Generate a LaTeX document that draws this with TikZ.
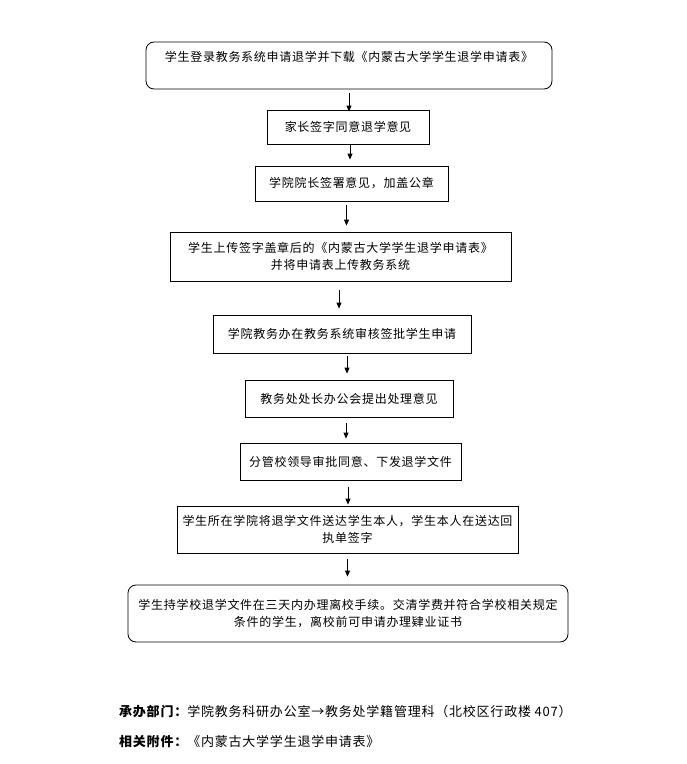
\documentclass[tikz,border=0pt]{standalone}
\usepackage{fontspec}
\setmainfont{Noto Sans CJK SC}[LetterSpace=6]
\usetikzlibrary{arrows.meta}
\begin{document}
\begin{tikzpicture}[
            x = 1pt, y = -1pt,
            blk/.style = {draw, line width=0.8pt, inner sep=0pt, align=center,
              font=\fontsize{12}{17}\selectfont},
            rblk/.style = {blk, rounded corners=8pt},
            arr/.style = {draw, line width=0.8pt, -{Triangle[length=6pt,width=5pt]}},
            note/.style = {anchor=west, inner sep=0pt, font=\fontsize{13}{16}\selectfont},
          ]
          \useasboundingbox (0,0) rectangle (687,764);
          \node[rblk, minimum width=406pt, text height=19.5pt, text depth=27.5pt] (login) at (349,65.5)
            {学生登录教务系统申请退学并下载《内蒙古大学学生退学申请表》};
          \node[blk, minimum width=162pt, minimum height=34pt] (parent) at (348,127) {家长签字同意退学意见};
          \node[blk, minimum width=193pt, minimum height=35pt] (dean) at (351.5,183.5) {学院院长签署意见，加盖公章};
          \node[blk, minimum width=341pt, minimum height=49pt] (upload) at (340.5,256.5)
            {学生上传签字盖章后的《内蒙古大学学生退学申请表》\\并将申请表上传教务系统};
          \node[blk, minimum width=258pt, minimum height=38pt] (review) at (342,334) {学院教务办在教务系统审核签批学生申请};
          \node[blk, minimum width=208pt, minimum height=37pt] (office) at (349,398.5) {教务处处长办公会提出处理意见};
          \node[blk, minimum width=221pt, minimum height=37pt] (leader) at (350.5,461.5) {分管校领导审批同意、下发退学文件};
          \node[blk, minimum width=341pt, minimum height=47pt] (deliver) at (347.5,529.5)
            {学生所在学院将退学文件送达学生本人，学生本人在送达回\\执单签字};
          \node[rblk, minimum width=440pt, minimum height=57pt] (leave) at (348,613.5)
            {学生持学校退学文件在三天内办理离校手续。交清学费并符合学校相关规定\\条件的学生，离校前可申请办理肄业证书};
          % arrows between the steps
          \draw[arr, shorten <=4pt, shorten >=-2pt] (login.south) -- (login.south |- parent.north);
          \draw[arr, shorten <=1pt, shorten >=6pt] ([xshift=2pt]parent.south) -- ([xshift=2pt]parent.south |- dean.north);
          \draw[arr, shorten <=4pt, shorten >=6pt] ([xshift=-5pt]dean.south) -- ([xshift=-5pt]dean.south |- upload.north);
          \draw[arr, shorten <=9pt, shorten >=6pt] ([xshift=-1.5pt]upload.south) -- ([xshift=-1.5pt]upload.south |- review.north);
          \draw[arr, shorten <=3pt, shorten >=6pt] ([xshift=5pt]review.south) -- ([xshift=5pt]review.south |- office.north);
          \draw[arr, shorten <=6pt, shorten >=4pt] ([xshift=-3pt]office.south) -- ([xshift=-3pt]office.south |- leader.north);
          \draw[arr, shorten <=7pt, shorten >=1pt] ([xshift=-2.5pt]leader.south) -- ([xshift=-2.5pt]leader.south |- deliver.north);
          \draw[arr, shorten <=6pt, shorten >=8pt] (deliver.south) -- (deliver.south |- leave.north);
          \node[note] (dept) at (119,712) {\bfseries 承办部门：\mdseries 学院教务科研办公室→教务处学籍管理科（北校区行政楼 407）};
          \node[note] (attach) at (119,742) {\bfseries 相关附件：\mdseries《内蒙古大学学生退学申请表》};
        \end{tikzpicture}
\end{document}
